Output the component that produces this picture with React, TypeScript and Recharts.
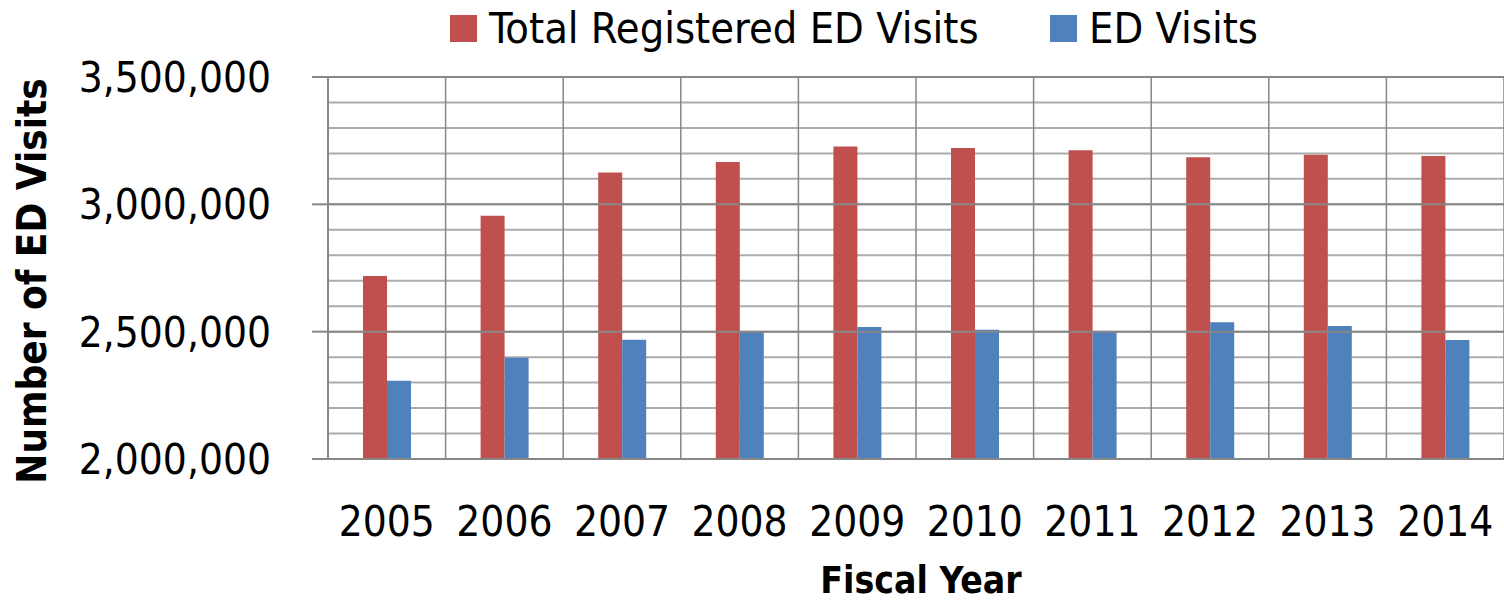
import React from 'react';
import {
  BarChart, Bar, XAxis, YAxis, CartesianGrid, Legend, ReferenceLine, Label,
} from 'recharts';

const YEARS = ['2005', '2006', '2007', '2008', '2009', '2010', '2011', '2012', '2013', '2014'];
const TOTAL_REGISTERED = [2719000, 2955000, 3125000, 3166000, 3227000, 3221000, 3212000, 3185000, 3195000, 3190000];
const ED_VISITS = [2307000, 2398000, 2468000, 2500000, 2518000, 2508000, 2500000, 2537000, 2522000, 2467000];
const Y_TICKS = [2000000, 2500000, 3000000, 3500000];
const Y_MINOR_TICKS = [
  2000000, 2100000, 2200000, 2300000, 2400000, 2500000, 2600000, 2700000,
  2800000, 2900000, 3000000, 3100000, 3200000, 3300000, 3400000, 3500000,
];
const MAJOR_LINES = [2500000, 3000000, 3500000];

const RED = '#C0504D';
const BLUE = '#4F81BD';
const GRID_DARK = '#878787';
const GRID_LIGHT = '#acacac';
const FONT = "'DejaVu Sans Condensed', 'Liberation Sans Narrow', 'Open Sans', sans-serif";

const data = YEARS.map((year, i) => ({
  year,
  total: TOTAL_REGISTERED[i],
  ed: ED_VISITS[i],
}));

const LegendContent = () => (
  <div style={{ display: 'flex', alignItems: 'center', fontFamily: FONT, fontSize: 43, lineHeight: '41px', color: '#000' }}>
    <span style={{ width: 27, height: 27, background: RED, marginRight: 12 }} />
    <span style={{ display: 'inline-block', width: 561, whiteSpace: 'nowrap' }}>Total Registered ED Visits</span>
    <span style={{ width: 27, height: 27, background: BLUE, marginRight: 12 }} />
    <span style={{ whiteSpace: 'nowrap' }}>ED Visits</span>
  </div>
);

// category boundaries, not centres, for the vertical grid
const boundaryLines = ({ offset }: any) =>
  [...YEARS, 'end'].map((_, i) => offset.left + (i * offset.width) / YEARS.length);

export default function App() {
  return (
    <div style={{ position: 'absolute', left: 0, top: 0, width: 1504, height: 605, background: '#fff' }}>
      <BarChart
        width={1504}
        height={605}
        data={data}
        margin={{ top: 77, right: 0, left: 0, bottom: 0 }}
        barSize={24}
        barGap={0}
      >
        <CartesianGrid yAxisId="minor" stroke={GRID_LIGHT} strokeWidth={2} vertical={false} />
        <CartesianGrid
          stroke={GRID_DARK}
          strokeWidth={1.5}
          horizontal={false}
          verticalCoordinatesGenerator={boundaryLines}
        />
        <XAxis
          dataKey="year"
          height={146}
          tickLine={false}
          tickSize={0}
          tickMargin={47}
          axisLine={{ stroke: GRID_DARK, strokeWidth: 2 }}
          tick={{ fontSize: 42, fill: '#000', fontFamily: FONT }}
          interval={0}
        >
          <Label
            content={({ viewBox }: any) => (
              <text
                x={viewBox.x + viewBox.width / 2 + 5}
                y={viewBox.y + 134}
                textAnchor="middle"
                fontFamily={FONT}
                fontWeight="bold"
                fontSize={37}
                fill="#000"
              >
                Fiscal Year
              </text>
            )}
          />
        </XAxis>
        <YAxis
          yAxisId="minor"
          domain={[2000000, 3500000]}
          ticks={Y_MINOR_TICKS}
          allowDataOverflow
          hide
        />
        <YAxis
          domain={[2000000, 3500000]}
          ticks={Y_TICKS}
          allowDataOverflow
          width={328}
          tickSize={16}
          tickMargin={41}
          axisLine={{ stroke: GRID_DARK, strokeWidth: 2 }}
          tickLine={{ stroke: GRID_DARK, strokeWidth: 2 }}
          tick={{ fontSize: 42, fill: '#000', fontFamily: FONT }}
          tickFormatter={(v: number) => v.toLocaleString('en-US')}
        >
          <Label
            content={({ viewBox }: any) => {
              const cx = 46;
              const cy = viewBox.y + viewBox.height / 2 + 13;
              return (
                <text
                  x={cx}
                  y={cy}
                  transform={`rotate(-90 ${cx} ${cy})`}
                  textAnchor="middle"
                  fontFamily={FONT}
                  fontWeight="bold"
                  fontSize={40}
                  fill="#000"
                >
                  Number of ED Visits
                </text>
              );
            }}
          />
        </YAxis>
        {MAJOR_LINES.map(v => (
          <ReferenceLine key={v} y={v} stroke={GRID_DARK} strokeWidth={2} />
        ))}
        <Legend
          content={<LegendContent />}
          wrapperStyle={{ position: 'absolute', left: 450, top: 8, width: 'auto', height: 0, overflow: 'visible' }}
        />
        <Bar dataKey="total" name="Total Registered ED Visits" fill={RED} isAnimationActive={false} />
        <Bar dataKey="ed" name="ED Visits" fill={BLUE} isAnimationActive={false} />
      </BarChart>
    </div>
  );
}
